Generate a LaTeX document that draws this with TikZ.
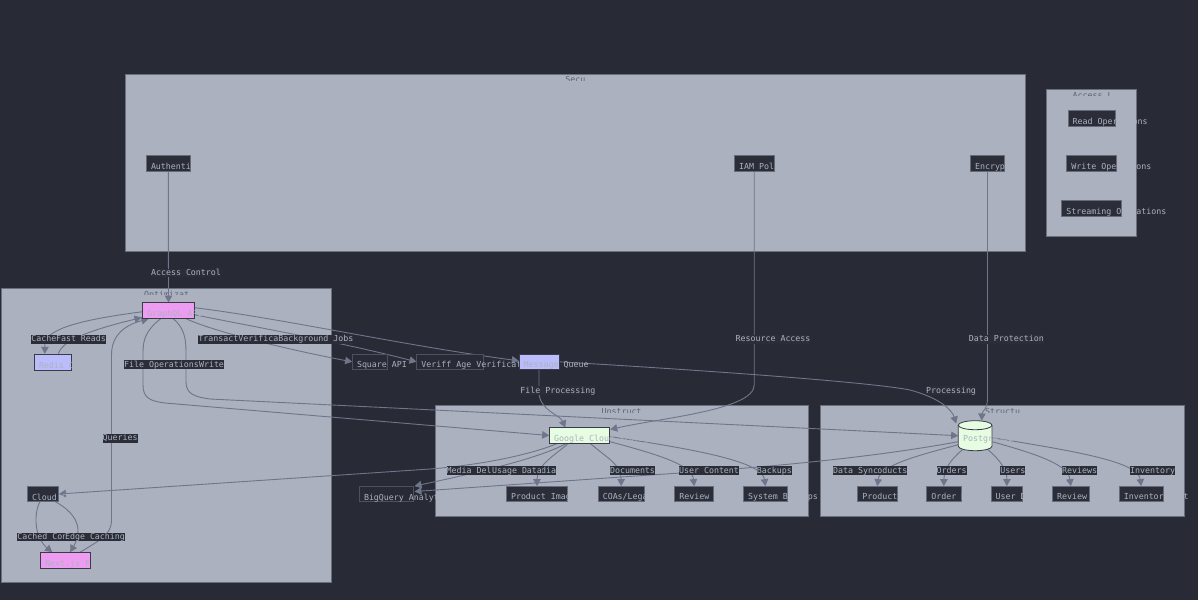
\documentclass[tikz,border=0pt]{standalone}
\usepackage{fontspec}
\newfontfamily\mono{DejaVu Sans Mono}
\usetikzlibrary{arrows.meta,calc}

\definecolor{bg}{HTML}{282A35}
\definecolor{clfill}{HTML}{ABB1BE}
\definecolor{clline}{HTML}{6A6F7E}
\definecolor{cltitle}{HTML}{5E6371}
\definecolor{txt}{HTML}{ABB2BF}
\definecolor{nfill}{HTML}{2B2E38}
\definecolor{nline}{HTML}{656B7B}
\definecolor{xline}{HTML}{4C5060}
\definecolor{edgec}{HTML}{6F758A}
\definecolor{pinkfill}{HTML}{EE9CF2}
\definecolor{lavfill}{HTML}{BABCFC}
\definecolor{mintfill}{HTML}{E6FDE2}
\definecolor{darkline}{HTML}{3A3B48}

\tikzset{
  every node/.style={font=\mono\fontsize{8.3pt}{10pt}\selectfont, text=txt, inner sep=0pt},
  darkbox/.style={draw=nline, fill=nfill, line width=0.8pt},
  extbox/.style={draw=xline, fill=bg, line width=0.8pt},
  pinkbox/.style={draw=darkline, fill=pinkfill, line width=0.8pt},
  lavbox/.style={draw=darkline, fill=lavfill, line width=0.8pt},
  mintbox/.style={draw=darkline, fill=mintfill, line width=0.8pt},
  plainbox/.style={},
  cluster/.style={draw=clline, fill=clfill, line width=0.8pt},
  conn/.style={draw=edgec, line width=0.9pt, -{Triangle[length=7pt,width=7.5pt]}},
  elabel/.style={fill=nfill, text height=6.3pt, text depth=1.7pt, inner xsep=0pt, inner ysep=0.4pt},
}

% box node: name, style, centre x, centre y, width, height, text (left aligned, set low)
\newcommand\mnode[7]{\node[#2,minimum width=#5,minimum height=#6] (#1) at (#3,#4)
  {\makebox[\dimexpr#5pt-9.4pt\relax][l]{\raisebox{-6pt}[0pt][0pt]{#7}}};}
% cluster title, cut off below
\newcommand\ctitle[4]{\begin{scope}\clip (#2-40,#3+0.5) rectangle (#2+40,#3+6.3);
  \node[text=cltitle, anchor=north, text height=6.2pt] (#1) at (#2,#3+2.3) {#4};\end{scope}}

\begin{document}
\begin{tikzpicture}[x=1pt,y=-1pt]
\fill[bg] (0,0) rectangle (1198,600);
\useasboundingbox (0,0) rectangle (1198,600);

% groups
\draw[cluster] (125,74) rectangle (1025.5,251);
\draw[cluster] (1046.7,89.3) rectangle (1136,236.7);
\draw[cluster] (1.7,288.3) rectangle (331.5,582.7);
\draw[cluster] (435,405.7) rectangle (808.5,516);
\draw[cluster] (820.7,405.7) rectangle (1184.3,516);

\ctitle{tsec}{575.3}{74}{Secu}
\ctitle{tacc}{1092.5}{89.3}{Access L}
\ctitle{topt}{166.6}{288.3}{Optimizat}
\ctitle{tuns}{621.5}{405.7}{Unstruct}
\ctitle{tstr}{1002.5}{405.7}{Structu}

% invisible anchor for the database cylinder
\node[minimum width=33.7,minimum height=30] (pg) at (975.2,435.7) {};
% invisible anchors for the remaining boxes (drawn later, on top of the connectors)
\foreach \n/\x/\y/\w/\h in {auth/168.3/163/44/16, iam/754.2/163/39.7/16, enc/987.5/163/34.4/16,
  gql/168.5/310.7/51.6/16, redis/52.8/362/37/16, next/65.2/560.3/49.7/16, cloud/43/494/31.4/14.6,
  square/369.8/361.8/35/15, veriff/450/361.8/66.6/15, mq/539/361.8/40/14.5,
  gcs/579.2/435.5/59.7/15.6, bq/386.3/494/54/15.4, pimg/537/493.8/61.4/15,
  coas/621.2/493.8/46.3/15, rimg/694.2/493.8/39/15, sysb/765.5/493.8/44.4/15,
  ptbl/877.3/493.8/39.3/15, ord/943.8/493.8/34.3/15, usr/1006.8/493.8/31.7/15,
  rtbl/1070.8/493.8/37/15, inv/1141.2/493.8/44.3/15}
  {\node[minimum width=\w,minimum height=\h] (\n) at (\x,\y) {};}

% connectors
\draw[conn] (auth.south) -- (gql.north);
\draw[conn] (iam.south) -- (754.2,385) .. controls (754.2,410) and (660,418) .. ($(gcs.north east)+(1,2)$);
\draw[conn] (enc.south) -- (987.5,398) .. controls (987.5,410) and (982,411) .. ($(pg.north)+(6.5,0)$);
\draw[conn] ($(gql.west)+(0,1)$) .. controls (95,318) and (50,326) .. (45,342) -- ($(redis.north)+(-8,0)$);
\draw[conn] ($(redis.north)+(5.5,0)$) .. controls (62,343) and (78,333) .. ($(gql.south west)+(-1,-1.3)$);
\draw[conn] ($(gql.south east)+(-8,0)$) .. controls (215,332) and (290,350) .. (square.west);
\draw[conn] ($(gql.east)+(0,4)$) .. controls (260,328) and (340,342) .. (veriff.west);
\draw[conn] ($(gql.east)+(0,-3)$) .. controls (280,318) and (400,345) .. ($(mq.west)+(0,-1)$);
\draw[conn] ($(gql.south)+(-8,0)$) .. controls (146,330) and (143,340) .. (143,352) -- (143,385)
  .. controls (143,398) and (150,401) .. (165,403) -- (gcs.west);
\draw[conn] ($(gql.south)+(5,0)$) .. controls (184,328) and (186,338) .. (186,352) -- (186,382)
  .. controls (186,394) and (195,397) .. (210,399) -- (pg.west);
\draw[conn] ($(next.north east)+(-10,0)$) .. controls (100,540) and (111.5,535) .. (111.5,520) -- (111.5,355)
  .. controls (111.5,335) and (125,325) .. ($(gql.south west)+(6,0)$);
\draw[conn] ($(cloud.south)+(-3,0)$) .. controls (33,515) and (35,538) .. ($(next.north)+(-13,0)$);
\draw[conn] ($(cloud.south)+(12,0)$) .. controls (80,515) and (82,532) .. ($(next.north)+(5,0)$);
\draw[conn] ($(gcs.south west)+(8,0)$) .. controls (530,455) and (480,465) .. (430,469) -- (cloud.east);
\draw[conn] ($(gcs.south west)+(17,0)$) .. controls (540,458) and (480,472) .. ($(bq.north east)+(1,0)$);
\draw[conn] ($(pg.west)+(0,6)$) .. controls (870,458) and (760,468) .. (650,475) -- ($(bq.east)+(1,-2.5)$);
\draw[conn] ($(gcs.south)+(-11,0)$) .. controls (555,455) and (537,465) .. (pimg.north);
\draw[conn] ($(gcs.south)+(11,0)$) .. controls (610,460) and (621,465) .. (coas.north);
\draw[conn] ($(gcs.south east)+(0,-2)$) .. controls (660,455) and (692,465) .. (rimg.north);
\draw[conn] ($(gcs.east)+(0,1)$) .. controls (700,450) and (762,462) .. (sysb.north);
\draw[conn] ($(pg.west)+(0,9)$) .. controls (920,455) and (880,465) .. (ptbl.north);
\draw[conn] ($(pg.south)+(-13,-1)$) .. controls (950,460) and (944,470) .. (ord.north);
\draw[conn] ($(pg.south)+(13,-1)$) .. controls (1000,460) and (1007,470) .. (usr.north);
\draw[conn] ($(pg.east)+(0,6)$) .. controls (1040,455) and (1068,465) .. (rtbl.north);
\draw[conn] ($(pg.east)+(0,2)$) .. controls (1080,452) and (1138,462) .. (inv.north);
\draw[conn] (mq.south) -- (539,392) .. controls (539,410) and (560,415) .. ($(gcs.north)+(-14,0)$);
\draw[conn] (mq.east) .. controls (700,370) and (870,382) .. (910,390) .. controls (940,398) and (952,410) .. ($(pg.north west)+(-2,3)$);

% connector labels
\node[elabel] (lac) at (186,273) {Access Control};
\node[elabel] (lra) at (773,339.3) {Resource Access};
\node[elabel] (ldp) at (1006.3,339.3) {Data Protection};
\node[elabel] (lpr) at (951,390.7) {Processing};
\node[elabel] (lfp) at (557.8,390.7) {File Processing};
\node[elabel] (lca) at (43.8,339.3) {Cache};
\node[elabel] (lfr) at (81,339.3) {Fast Reads};
\node[elabel] (lfo) at (161.5,364.7) {File Operations};
\node[elabel] (lwr) at (211.5,364.7) {Write};
\node[elabel] (ltr) at (228.3,339.3) {Transactions};
\node[elabel] (lve) at (268.3,339.3) {Verification};
\node[elabel] (lbj) at (315.8,339.3) {Background Jobs};
\node[elabel] (lqu) at (120.2,438.3) {Queries};
\node[elabel] (lcc) at (52.3,537) {Cached Content};
\node[elabel] (lec) at (95,537) {Edge Caching};
\node[elabel] (lmd) at (481.7,470.7) {Media Delivery};
\node[elabel] (lme) at (543.5,470.7) {Media};
\node[elabel] (lud) at (517,470.7) {Usage Data};
\node[elabel] (ldo) at (632.5,470.7) {Documents};
\node[elabel] (luc) at (709,470.7) {User Content};
\node[elabel] (lbk) at (774.3,470.7) {Backups};
\node[elabel] (lpd) at (887.3,470.7) {Products};
\node[elabel] (lds) at (855.5,470.7) {Data Sync};
\node[elabel] (lor) at (951.5,470.7) {Orders};
\node[elabel] (lus) at (1012.8,470.7) {Users};
\node[elabel] (lrv) at (1079.7,470.7) {Reviews};
\node[elabel] (lin) at (1152.7,470.7) {Inventory};

% database cylinder
\draw[darkline, fill=mintfill, line width=0.8pt] (958.3,425.2) -- (958.3,446.2)
  arc[start angle=180, end angle=0, x radius=16.85, y radius=4.5] -- (992,425.2)
  arc[start angle=0, end angle=-180, x radius=16.85, y radius=4.5] -- cycle;
\draw[darkline, line width=0.8pt] (958.3,425.2) arc[start angle=180, end angle=0, x radius=16.85, y radius=4.5];
\mnode{pgtext}{plainbox}{975.2}{435.7}{33.7}{30}{PostgreSQL}

% boxes
\mnode{bauth}{darkbox}{168.3}{163}{44}{16}{Authentication}
\mnode{biam}{darkbox}{754.2}{163}{39.7}{16}{IAM Policies}
\mnode{benc}{darkbox}{987.5}{163}{34.4}{16}{Encryption}
\mnode{bread}{darkbox}{1091.5}{118.2}{47}{15.7}{Read Operations}
\mnode{bwrite}{darkbox}{1091.5}{163}{49.6}{16}{Write Operations}
\mnode{bstream}{darkbox}{1091.5}{208.2}{59.6}{15.7}{Streaming Operations}
\mnode{bgql}{pinkbox}{168.5}{310.7}{51.6}{16}{GraphQL API}
\mnode{bredis}{lavbox}{52.8}{362}{37}{16}{Redis Cache}
\mnode{bnext}{pinkbox}{65.2}{560.3}{49.7}{16}{Next.js Frontend}
\mnode{bcloud}{darkbox}{43}{494}{31.4}{14.6}{Cloud CDN}
\mnode{bsquare}{extbox}{369.8}{361.8}{35}{15}{Square API}
\mnode{bveriff}{extbox}{450}{361.8}{66.6}{15}{Veriff Age Verification}
\mnode{bmq}{lavbox}{539}{361.8}{40}{14.5}{Message Queue}
\mnode{bgcs}{mintbox}{579.2}{435.5}{59.7}{15.6}{Google Cloud Storage}
\mnode{bbq}{extbox}{386.3}{494}{54}{15.4}{BigQuery Analytics}
\mnode{bpimg}{darkbox}{537}{493.8}{61.4}{15}{Product Images}
\mnode{bcoas}{darkbox}{621.2}{493.8}{46.3}{15}{COAs/Legal Docs}
\mnode{brimg}{darkbox}{694.2}{493.8}{39}{15}{Review Images}
\mnode{bsysb}{darkbox}{765.5}{493.8}{44.4}{15}{System Backups}
\mnode{bptbl}{darkbox}{877.3}{493.8}{39.3}{15}{Product Data}
\mnode{bord}{darkbox}{943.8}{493.8}{34.3}{15}{Order Data}
\mnode{busr}{darkbox}{1006.8}{493.8}{31.7}{15}{User Data}
\mnode{brtbl}{darkbox}{1070.8}{493.8}{37}{15}{Review Data}
\mnode{binv}{darkbox}{1141.2}{493.8}{44.3}{15}{Inventory Mgt}
\end{tikzpicture}
\end{document}
